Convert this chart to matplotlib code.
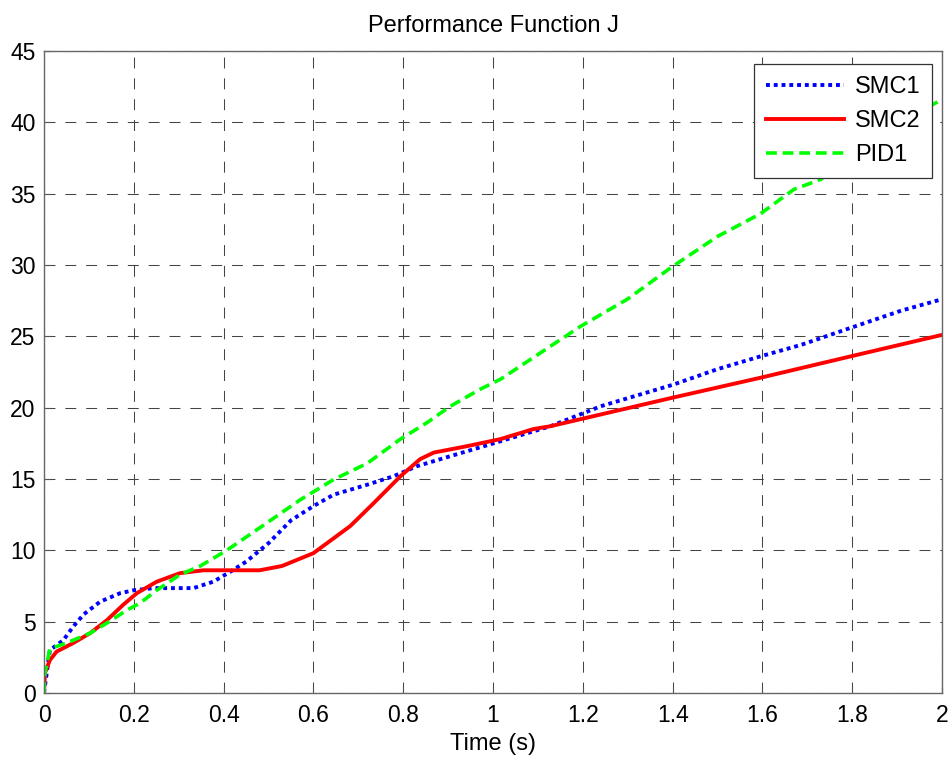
import matplotlib
matplotlib.use("Agg")
import matplotlib.pyplot as plt
from matplotlib.ticker import FuncFormatter

plt.rcParams['font.family'] = ['Liberation Sans', 'DejaVu Sans']

# SMC1 (blue dotted)
t_smc1 = [0, 0.013, 0.043, 0.065, 0.088, 0.125, 0.17, 0.2, 0.244, 0.288, 0.333, 0.377, 0.415,
          0.45, 0.5, 0.55, 0.6, 0.645, 0.72, 0.779, 0.831, 0.905, 0.98, 1.054, 1.128, 1.24,
          1.4, 1.5, 1.596, 1.686, 1.797, 1.909, 2.0]
j_smc1 = [0, 3.0, 3.7, 4.65, 5.5, 6.4, 7.0, 7.2, 7.35, 7.35, 7.35, 7.8, 8.5,
          9.2, 10.5, 12.1, 13.1, 13.9, 14.6, 15.2, 15.9, 16.6, 17.3, 18.0, 18.7, 20.1,
          21.6, 22.7, 23.6, 24.4, 25.6, 26.8, 27.6]

# SMC2 (red solid)
t_smc2 = [0, 0.002, 0.013, 0.028, 0.065, 0.103, 0.14, 0.177, 0.207, 0.251, 0.303, 0.355,
          0.4, 0.48, 0.53, 0.6, 0.682, 0.734, 0.794, 0.838, 0.868, 0.942, 1.017, 1.09,
          1.128, 1.4, 1.596, 1.797, 2.0]
j_smc2 = [0, 1.4, 2.3, 2.9, 3.5, 4.2, 5.1, 6.2, 7.0, 7.8, 8.4, 8.6,
          8.6, 8.6, 8.9, 9.8, 11.7, 13.3, 15.2, 16.4, 16.85, 17.3, 17.8, 18.5,
          18.7, 20.7, 22.1, 23.6, 25.1]

# PID1 (green dashed)
t_pid1 = [0, 0.002, 0.013, 0.05, 0.103, 0.14, 0.184, 0.214, 0.251, 0.303, 0.348, 0.407,
          0.5, 0.571, 0.645, 0.72, 0.794, 0.853, 0.905, 0.972, 1.017, 1.195, 1.299, 1.4,
          1.5, 1.596, 1.67, 1.73, 1.8, 1.9, 2.0]
j_pid1 = [0, 1.4, 3.1, 3.5, 4.2, 4.9, 5.8, 6.3, 7.2, 8.3, 8.9, 10.0,
          12.0, 13.55, 14.96, 16.1, 17.8, 18.95, 20.1, 21.3, 22.0, 25.7, 27.6, 29.9,
          32.0, 33.6, 35.3, 36.0, 37.8, 39.9, 41.6]

x_ticks = [0, 0.2, 0.4, 0.6, 0.8, 1.0, 1.2, 1.4, 1.6, 1.8, 2.0]
y_ticks = [0, 5, 10, 15, 20, 25, 30, 35, 40, 45]

fig = plt.figure(figsize=(9.53, 7.58), dpi=100)
ax = fig.add_axes([0.0462, 0.0858, 0.9423, 0.8469])

ax.plot(t_smc1, j_smc1, color='#0000ff', linestyle=(0, (1, 1)), linewidth=2.8, label='SMC1')
ax.plot(t_smc2, j_smc2, color='#ff0000', linestyle='-', linewidth=2.8, label='SMC2')
ax.plot(t_pid1, j_pid1, color='#00ff00', linestyle=(0, (3, 1.6)), linewidth=2.6, label='PID1')

ax.set_xlim(0, 2)
ax.set_ylim(0, 45)
ax.set_xticks(x_ticks)
ax.set_yticks(y_ticks)
ax.xaxis.set_major_formatter(FuncFormatter(lambda v, p: ('%g' % v)))
ax.tick_params(direction='in', labelsize=16.5, length=4, color='#555555')
ax.tick_params(axis='x', pad=8)
ax.tick_params(axis='y', pad=6)
ax.grid(True, color='#444444', linestyle=(0, (10.5, 9.5)), linewidth=0.75)
for s in ax.spines.values():
    s.set_color('#666666')
    s.set_linewidth(1.0)

ax.set_title('Performance Function J', fontsize=17, pad=14)
ax.set_xlabel('Time (s)', fontsize=17, labelpad=4)

leg = ax.legend(loc='upper right', bbox_to_anchor=(0.9889, 0.9798), borderaxespad=0,
                fontsize=17, fancybox=False, framealpha=1, edgecolor='#333333',
                borderpad=0.5, handlelength=3.3, labelspacing=0.52, handletextpad=0.45)
leg.get_frame().set_linewidth(0.9)

fig.savefig('out.png', dpi=100)
